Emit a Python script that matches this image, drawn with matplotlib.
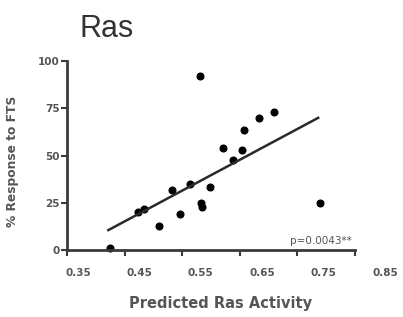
import numpy as np
import matplotlib.pyplot as plt
from matplotlib.transforms import ScaledTranslation

# 数据
ras_activity = [0.425, 0.474, 0.484, 0.510, 0.532, 0.546, 0.563, 0.581, 0.582,
                0.584, 0.599, 0.621, 0.638, 0.654, 0.657, 0.683, 0.710, 0.790]
fts_response = [0.9, 20.3, 21.5, 12.7, 32.0, 19.0, 34.8, 92.0, 25.0,
                22.6, 33.5, 53.8, 47.6, 52.9, 63.6, 70.0, 73.0, 24.7]

# 回归线端点
fit_x = [0.422, 0.786]
fit_y = [10.6, 70.0]

x_ticks = [0.35, 0.45, 0.55, 0.65, 0.75, 0.85]
x_tick_labels = ['0.35', '0.45', '0.55', '0.65', '0.75', '0.85']
y_ticks = [0, 25, 50, 75, 100]
p_text = 'p=0.0043**'

axis_color = '#3a3a3a'
text_color = '#555555'

fig = plt.figure(figsize=(4.03, 3.17), dpi=100)
ax = fig.add_axes([0.166, 0.211, 0.715, 0.596])

ax.plot(ras_activity, fts_response, 'o', color='black', markersize=4.8, clip_on=False)
ax.plot(fit_x, fit_y, '-', color='#2a2a2a', linewidth=1.8)

ax.set_xlim(0.35, 0.85)
ax.set_ylim(0, 100)
ax.set_xticks(x_ticks)
ax.set_xticklabels(x_tick_labels)
ax.set_yticks(y_ticks)

for side in ['top', 'right']:
    ax.spines[side].set_visible(False)
for side in ['left', 'bottom']:
    ax.spines[side].set_linewidth(2)
    ax.spines[side].set_color(axis_color)

ax.tick_params(axis='both', direction='out', length=4, width=1.5, color=axis_color,
               labelsize=7.5, labelcolor=text_color)
ax.tick_params(axis='x', pad=9)
ax.tick_params(axis='y', pad=1)

for lab in ax.get_xticklabels() + ax.get_yticklabels():
    lab.set_fontweight('bold')

# x 轴刻度标签在原图中相对刻度向右偏移
for k, lab in enumerate(ax.get_xticklabels()):
    dx = (11 + 3.8 * k) / 100.0
    lab.set_transform(lab.get_transform() + ScaledTranslation(dx, 0, fig.dpi_scale_trans))

ax.set_xlabel('Predicted Ras Activity', fontsize=10.5, fontweight='bold', color=text_color)
ax.xaxis.set_label_coords(0.535, -0.245)
ax.set_ylabel('% Response to FTS', fontsize=8.8, fontweight='bold', color=text_color)
ax.yaxis.set_label_coords(-0.165, 0.47)

ax.text(0.99, 0.02, p_text, transform=ax.transAxes, ha='right', va='bottom',
        fontsize=7.5, color=text_color)

fig.text(0.265, 0.91, 'Ras', fontsize=22, color='#333333', ha='center', va='center',
         family='Liberation Sans')

plt.savefig('out.png', dpi=100)
plt.close(fig)
